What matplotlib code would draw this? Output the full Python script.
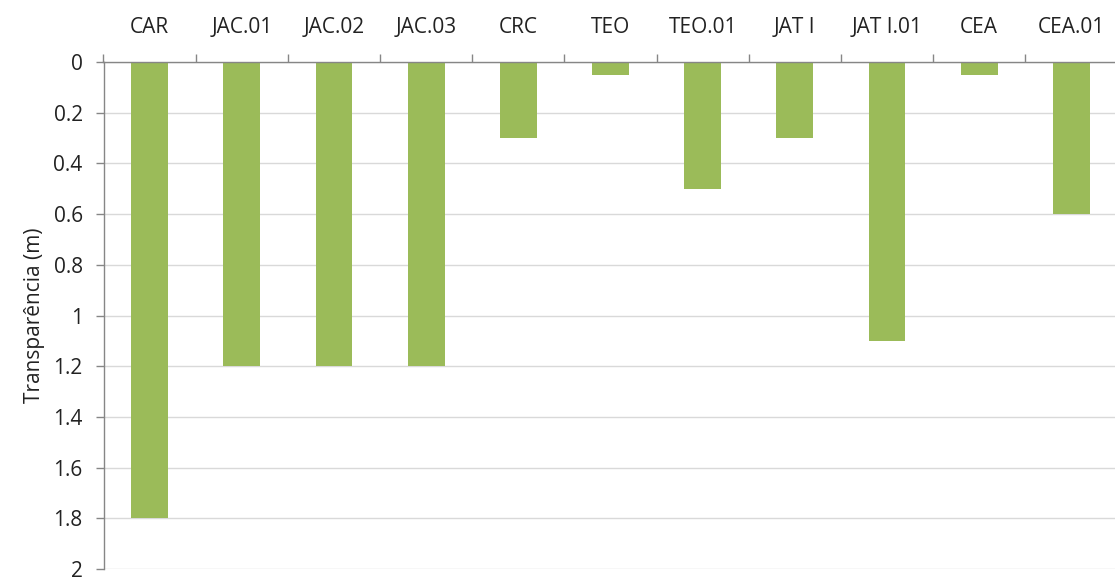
import matplotlib
matplotlib.use("Agg")
import matplotlib.pyplot as plt
import numpy as np

categories = ["CAR", "JAC.01", "JAC.02", "JAC.03", "CRC", "TEO", "TEO.01",
              "JAT I", "JAT I.01", "CEA", "CEA.01"]
values = [1.8, 1.2, 1.2, 1.2, 0.3, 0.05, 0.5, 0.3, 1.1, 0.05, 0.6]
yticks = [0, 0.2, 0.4, 0.6, 0.8, 1, 1.2, 1.4, 1.6, 1.8, 2]
ytick_labels = ["0", "0.2", "0.4", "0.6", "0.8", "1", "1.2", "1.4", "1.6", "1.8", "2"]

plt.rcParams['font.family'] = ['Open Sans', 'DejaVu Sans']

fig = plt.figure(figsize=(11.15, 5.77), dpi=100)
ax = fig.add_axes([103.5/1115, 1-569/577, 1014/1115, (569-62)/577])

x = np.arange(len(categories))
ax.bar(x, values, width=0.4, color="#9BBB59", zorder=3)

ax.set_xlim(-0.5, len(categories) - 0.5)
ax.set_ylim(2, 0)
ax.set_yticks(yticks)
ax.set_yticklabels(ytick_labels, fontsize=15, color="#222222")
ax.yaxis.grid(True, color="#D9D9D9", linewidth=1, zorder=0)

ax.xaxis.tick_top()
ax.set_xticks(x)
ax.set_xticklabels(categories, fontsize=15, color="#222222")
ax.set_xticks(np.arange(len(categories) + 1) - 0.5, minor=True)
ax.tick_params(axis="x", which="major", length=0, pad=17)
ax.tick_params(axis="x", which="minor", length=6, color="#868686", width=1, top=True, bottom=False)
ax.tick_params(axis="y", length=6, color="#868686", width=1, pad=9)

for s in ["right", "bottom"]:
    ax.spines[s].set_visible(False)
for s in ["left", "top"]:
    ax.spines[s].set_color("#868686")
    ax.spines[s].set_linewidth(1)
ax.spines["top"].set_zorder(4)

ax.set_ylabel("Transparência (m)", fontsize=15, color="#222222", labelpad=6)

fig.savefig("out.png", dpi=100)
